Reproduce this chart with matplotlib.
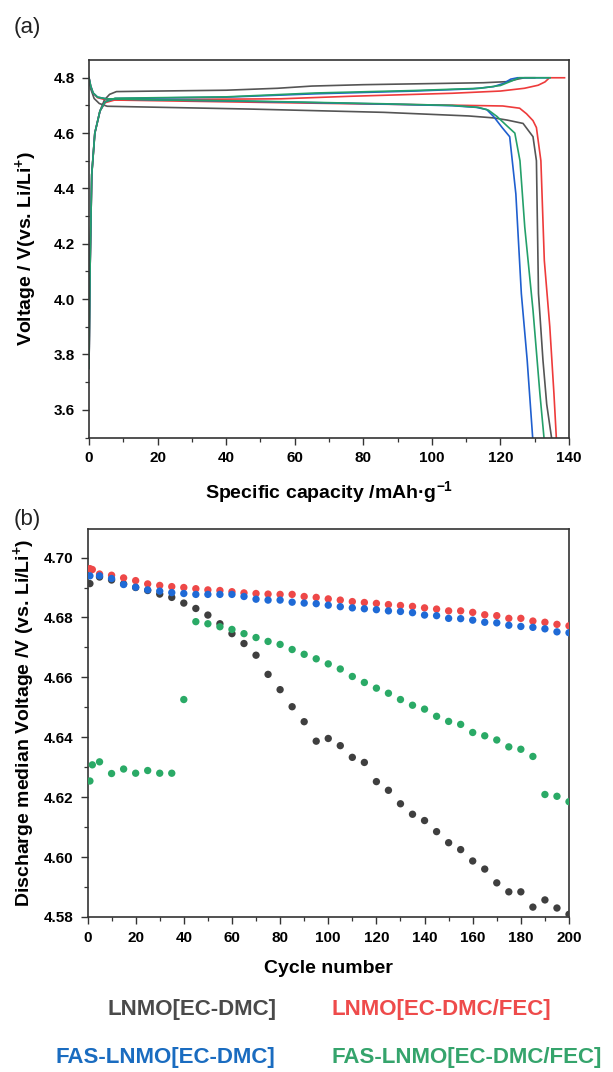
import matplotlib
matplotlib.use("Agg")
import matplotlib.pyplot as plt
from matplotlib.ticker import MultipleLocator, FormatStrFormatter

plt.rcParams['font.family'] = ['Liberation Sans', 'DejaVu Sans']
plt.rcParams['mathtext.fontset'] = 'custom'
plt.rcParams['mathtext.rm'] = 'Liberation Sans:bold'
plt.rcParams['mathtext.bf'] = 'Liberation Sans:bold'

# ---------------- Panel (a): charge / discharge profiles ----------------
gray_ch_x = [0, 0.3, 0.8, 1.7, 3.2, 4.5, 6, 8, 20, 40, 55, 65, 80, 100, 115, 122, 125, 127, 130]
gray_ch_v = [3.75, 4.1, 4.45, 4.6, 4.68, 4.72, 4.74, 4.75, 4.752, 4.755, 4.762, 4.77, 4.775, 4.779, 4.782, 4.786, 4.795, 4.8, 4.8]
blue_ch_x = [0, 0.3, 0.8, 1.7, 3.2, 4.7, 7.6, 20, 40, 66, 95, 112, 118, 121, 123, 125, 134]
blue_ch_v = [3.75, 4.1, 4.45, 4.6, 4.68, 4.713, 4.725, 4.727, 4.73, 4.742, 4.752, 4.76, 4.768, 4.78, 4.795, 4.8, 4.8]
green_ch_x = [0, 0.3, 0.8, 1.7, 3.2, 4.7, 7.6, 20, 40, 66, 95, 114, 120, 123, 125.5, 134.5]
green_ch_v = [3.75, 4.1, 4.45, 4.6, 4.68, 4.713, 4.726, 4.728, 4.731, 4.745, 4.754, 4.762, 4.772, 4.787, 4.8, 4.8]
red_ch_x = [0, 0.3, 0.8, 1.7, 3.2, 4.7, 7.6, 30, 56, 76, 106, 120, 127, 131, 133, 134.3, 138.7]
red_ch_v = [3.75, 4.1, 4.45, 4.6, 4.68, 4.71, 4.72, 4.722, 4.724, 4.733, 4.744, 4.752, 4.762, 4.773, 4.785, 4.8, 4.8]

gray_dis_x = [0, 0.5, 1.5, 3, 5.3, 46.6, 86, 110.7, 118, 122, 126.6, 129.5, 130.5, 131.1, 132.4, 133.5, 134.9]
gray_dis_v = [4.8, 4.76, 4.725, 4.707, 4.697, 4.687, 4.675, 4.662, 4.655, 4.647, 4.635, 4.587, 4.5, 4.02, 3.78, 3.62, 3.5]
blue_dis_x = [0, 0.5, 1.2, 2.5, 5, 20, 46, 86, 106, 113, 116, 118, 120.5, 122.7, 124.5, 126.1, 127.8, 129.4]
blue_dis_v = [4.8, 4.77, 4.745, 4.73, 4.724, 4.72, 4.715, 4.705, 4.699, 4.693, 4.685, 4.66, 4.62, 4.587, 4.38, 4.02, 3.78, 3.5]
green_dis_x = [0, 0.5, 1.2, 2.5, 5, 20, 46, 86, 106, 113.6, 116.5, 119, 122, 124.2, 125.7, 127.1, 129.5, 131.5, 132.7]
green_dis_v = [4.8, 4.77, 4.745, 4.73, 4.724, 4.72, 4.716, 4.706, 4.7, 4.693, 4.683, 4.66, 4.625, 4.6, 4.5, 4.26, 3.96, 3.66, 3.5]
red_dis_x = [0, 0.5, 1.2, 2.5, 5, 30, 66, 110.7, 120.7, 125.6, 127.6, 129.5, 130.5, 131.8, 132.8, 134.4, 135.6, 136.3]
red_dis_v = [4.8, 4.77, 4.745, 4.728, 4.72, 4.715, 4.708, 4.7, 4.698, 4.69, 4.67, 4.645, 4.62, 4.5, 4.14, 3.9, 3.66, 3.5]

# ---------------- Panel (b): discharge median voltage ----------------
cyc_std = [1] + list(range(5, 201, 5))
cyc_ext = [1, 2] + list(range(5, 201, 5))

gray_mv = [4.6913, 4.6935, 4.6925, 4.6912, 4.6900, 4.6890, 4.6878, 4.6867, 4.6848, 4.6830,
           4.6808, 4.6779, 4.6746, 4.6713, 4.6674, 4.6610, 4.6559, 4.6502, 4.6452, 4.6387,
           4.6396, 4.6372, 4.6333, 4.6316, 4.6252, 4.6223, 4.6178, 4.6143, 4.6122, 4.6085,
           4.6048, 4.6025, 4.5987, 4.5960, 4.5914, 4.5884, 4.5884, 4.5833, 4.5857, 4.5830, 4.5809]
red_mv = [4.6963, 4.6960, 4.6945, 4.6941, 4.6932, 4.6923, 4.6912, 4.6907, 4.6903, 4.6900, 4.6896,
          4.6892, 4.6890, 4.6886, 4.6882, 4.6880, 4.6878, 4.6877, 4.6877, 4.6870, 4.6867,
          4.6862, 4.6858, 4.6853, 4.6850, 4.6847, 4.6843, 4.6840, 4.6837, 4.6832, 4.6828,
          4.6822, 4.6822, 4.6817, 4.6809, 4.6806, 4.6797, 4.6797, 4.6788, 4.6784, 4.6777, 4.6772]
blue_mv = [4.6939, 4.6939, 4.6930, 4.6910, 4.6901, 4.6892, 4.6888, 4.6883, 4.6880, 4.6877,
           4.6877, 4.6877, 4.6877, 4.6870, 4.6861, 4.6858, 4.6858, 4.6851, 4.6848, 4.6846,
           4.6841, 4.6836, 4.6832, 4.6829, 4.6826, 4.6822, 4.6820, 4.6816, 4.6808, 4.6806,
           4.6797, 4.6796, 4.6791, 4.6784, 4.6782, 4.6774, 4.6770, 4.6767, 4.6762, 4.6752, 4.6749]
green_mv = [4.6254, 4.6308, 4.6318, 4.6279, 4.6294, 4.6280, 4.6289, 4.6280, 4.6280, 4.6526, 4.6786,
            4.6779, 4.6769, 4.6760, 4.6746, 4.6733, 4.6720, 4.6710, 4.6693, 4.6677, 4.6662,
            4.6645, 4.6628, 4.6603, 4.6583, 4.6564, 4.6547, 4.6526, 4.6507, 4.6494, 4.6470,
            4.6453, 4.6443, 4.6416, 4.6405, 4.6391, 4.6368, 4.6360, 4.6336, 4.6209, 4.6203, 4.6185]

labels = ['LNMO[EC-DMC]', 'LNMO[EC-DMC/FEC]', 'FAS-LNMO[EC-DMC]', 'FAS-LNMO[EC-DMC/FEC]']
line_colors = ['#555555', '#ee3b3b', '#1f5fcf', '#24a06a']
dot_colors = ['#3f3f3f', '#ee4848', '#1f6ad6', '#2aaa66']
text_colors = ['#4a4a4a', '#ee4b4b', '#1a6cc0', '#35a46c']

W, H = 613, 1072
fig = plt.figure(figsize=(W / 100, H / 100), dpi=100)

def box(l, r, t, b):
    return [l / W, 1 - b / H, (r - l) / W, (b - t) / H]

spine_c = '#333333'
def style(ax):
    for s in ax.spines.values():
        s.set_color(spine_c)
        s.set_linewidth(1.2)
    ax.tick_params(which='major', direction='out', length=5, width=1.0, color=spine_c,
                   labelsize=11, pad=5)
    ax.tick_params(which='minor', direction='out', length=3, width=0.9, color=spine_c)
    for lab in ax.get_xticklabels() + ax.get_yticklabels():
        lab.set_fontweight('bold')

# Panel (a)
axa = fig.add_axes(box(89, 569, 59.5, 437.5))
for cx, cv, dx, dv, c in [
    (gray_ch_x, gray_ch_v, gray_dis_x, gray_dis_v, line_colors[0]),
    (red_ch_x, red_ch_v, red_dis_x, red_dis_v, line_colors[1]),
    (blue_ch_x, blue_ch_v, blue_dis_x, blue_dis_v, line_colors[2]),
    (green_ch_x, green_ch_v, green_dis_x, green_dis_v, line_colors[3]),
]:
    axa.plot(cx, cv, color=c, lw=1.2, solid_joinstyle='round')
    axa.plot(dx, dv, color=c, lw=1.2, solid_joinstyle='round')
axa.set_xlim(0, 140)
axa.set_ylim(3.5, 4.866)
axa.xaxis.set_major_locator(MultipleLocator(20))
axa.xaxis.set_minor_locator(MultipleLocator(10))
axa.yaxis.set_major_locator(MultipleLocator(0.2))
axa.yaxis.set_minor_locator(MultipleLocator(0.1))
axa.yaxis.set_major_formatter(FormatStrFormatter('%.1f'))
style(axa)
axa.set_xlabel('Specific capacity /mAh\u00b7g$^{-1}$', fontsize=14, fontweight='bold', labelpad=10)
axa.set_ylabel('Voltage / V(vs. Li/Li$^{+}$)', fontsize=14, fontweight='bold', labelpad=10)

# Panel (b)
axb = fig.add_axes(box(87.5, 569, 528.5, 917))
series_b = [(cyc_std, gray_mv), (cyc_ext, red_mv), (cyc_std, blue_mv), (cyc_ext, green_mv)]
for (cx, cv), c in zip(series_b, dot_colors):
    axb.scatter(cx, cv, s=28, color=c, edgecolors='none', zorder=3)
axb.set_xlim(0, 200)
axb.set_ylim(4.58, 4.7097)
axb.xaxis.set_major_locator(MultipleLocator(20))
axb.xaxis.set_minor_locator(MultipleLocator(10))
axb.yaxis.set_major_locator(MultipleLocator(0.02))
axb.yaxis.set_minor_locator(MultipleLocator(0.01))
axb.yaxis.set_major_formatter(FormatStrFormatter('%.2f'))
style(axb)
axb.set_xlabel('Cycle number', fontsize=14, fontweight='bold', labelpad=11)
axb.set_ylabel('Discharge median Voltage /V (vs. Li/Li$^{+}$)', fontsize=14, fontweight='bold', labelpad=4)

fig.text(14 / W, 1 - 28 / H, '(a)', fontsize=16, ha='left', va='center', color='#222222')
fig.text(14 / W, 1 - 520 / H, '(b)', fontsize=16, ha='left', va='center', color='#222222')

legend_pos = [(192, 1010), (441, 1010), (165, 1058), (467, 1058)]
for lab, col, (px, py) in zip(labels, text_colors, legend_pos):
    fig.text(px / W, 1 - py / H, lab, color=col, fontsize=16, fontweight='bold',
             ha='center', va='center')

fig.savefig('out.png', dpi=100)
